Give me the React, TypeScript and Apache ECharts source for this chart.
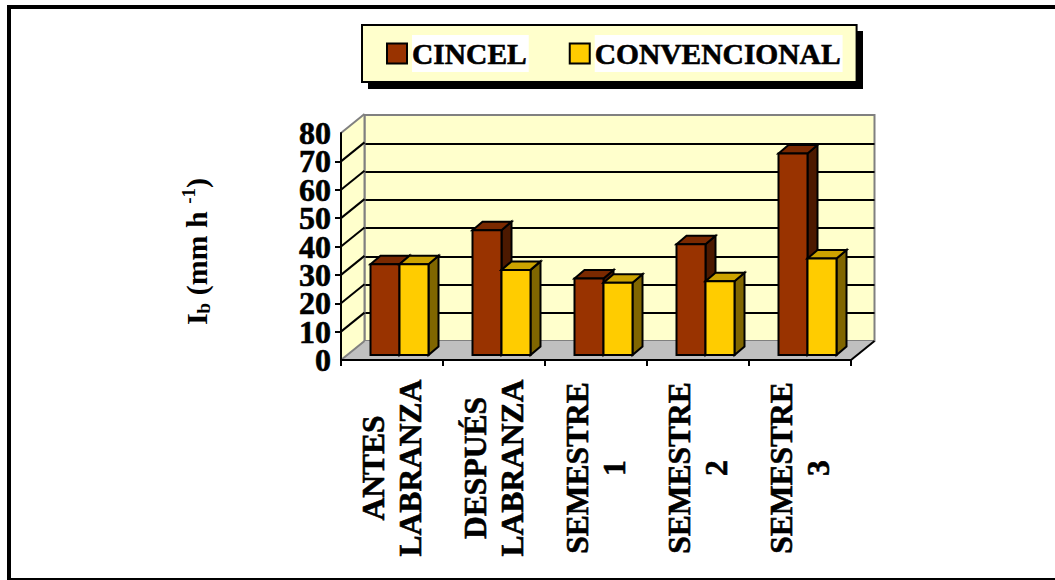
import React, { useEffect, useRef } from "react";
import * as echarts from "echarts";

const categories = ["ANTES\nLABRANZA", "DESPUÉS\nLABRANZA", "SEMESTRE\n1", "SEMESTRE\n2", "SEMESTRE\n3"];
const cincel = [32, 44, 27, 39, 71];
const convencional = [32, 30, 25.5, 26, 34];
const yTicks = [0, 10, 20, 30, 40, 50, 60, 70, 80];

const SERIF = "'Liberation Serif', 'Times New Roman', serif";
const WALL = "#FFFFCC";
const GREY = "#808080";
const DEPTH_X = 23.5;
const DEPTH_Y = 19;
const BAR_SHIFT_X = 7.5;
const BAR_BASE_Y = 5;
const BAR_W = 29;
const BAR_DX = 10;
const BAR_DY = 8.5;

function frameItem(params: any, api: any) {
  const cs = params.coordSys;
  const x0 = cs.x;
  const x1 = cs.x + cs.width;
  const y0 = cs.y + cs.height;
  const y1 = cs.y;
  const wall = [[x0, y0], [x0 + DEPTH_X, y0 - DEPTH_Y], [x0 + DEPTH_X, y1 - DEPTH_Y], [x0, y1]];
  const floor = [[x0, y0], [x1, y0], [x1 + DEPTH_X, y0 - DEPTH_Y], [x0 + DEPTH_X, y0 - DEPTH_Y]];
  const children: any[] = [
    { type: "polygon", shape: { points: floor }, style: { fill: "#C0C0C0", stroke: "none" } },
    { type: "polygon", shape: { points: wall }, style: { fill: WALL, stroke: "none" } },
    { type: "line", shape: { x1: x0 + DEPTH_X, y1: y0 - DEPTH_Y, x2: x0 + DEPTH_X, y2: y1 - DEPTH_Y }, style: { stroke: GREY, lineWidth: 2 } },
    { type: "line", shape: { x1: x0, y1: y1, x2: x0 + DEPTH_X, y2: y1 - DEPTH_Y }, style: { stroke: GREY, lineWidth: 2 } },
    { type: "line", shape: { x1: x0, y1: y0, x2: x0 + DEPTH_X, y2: y0 - DEPTH_Y }, style: { stroke: GREY, lineWidth: 2 } },
    { type: "line", shape: { x1: x1, y1: y0, x2: x1 + DEPTH_X, y2: y0 - DEPTH_Y }, style: { stroke: "#000", lineWidth: 2 } },
  ];
  yTicks.slice(1, -1).forEach((t) => {
    const y = api.coord([0, t])[1];
    children.push({
      type: "line",
      shape: { x1: x0, y1: y, x2: x0 + DEPTH_X, y2: y - DEPTH_Y },
      style: { stroke: "#000", lineWidth: 2 },
    });
  });
  return { type: "group", children };
}

function barRenderer(slot: number, front: string, top: string, side: string) {
  return (_params: any, api: any) => {
    const c = api.coord([api.value(0), api.value(1)]);
    const b = api.coord([api.value(0), 0]);
    const l = c[0] + BAR_SHIFT_X + (slot === 0 ? -BAR_W : 0);
    const r = l + BAR_W;
    const yt = c[1] - BAR_BASE_Y;
    const yb = b[1] - BAR_BASE_Y;
    const stroke = { stroke: "#000", lineWidth: 2, lineJoin: "miter" };
    return {
      type: "group",
      children: [
        { type: "polygon", shape: { points: [[r, yt], [r + BAR_DX, yt - BAR_DY], [r + BAR_DX, yb - BAR_DY], [r, yb]] }, style: { fill: side, ...stroke } },
        { type: "polygon", shape: { points: [[l, yt], [l + BAR_DX, yt - BAR_DY], [r + BAR_DX, yt - BAR_DY], [r, yt]] }, style: { fill: top, ...stroke } },
        { type: "rect", shape: { x: l, y: yt, width: BAR_W, height: yb - yt }, style: { fill: front, ...stroke } },
      ],
    };
  };
}

export default function App() {
  const ref = useRef<HTMLDivElement>(null);
  useEffect(() => {
    const chart = echarts.init(ref.current!, undefined, { renderer: "svg" });
    const heavy = { textBorderColor: "#000", textBorderWidth: 0.6 };
    const yLabelFont = { color: "#000", fontFamily: SERIF, fontWeight: "bold", fontSize: 32, ...heavy };
    chart.setOption({
      animation: false,
      backgroundColor: "#fff",
      textStyle: { fontFamily: SERIF },
      grid: [
        { left: 341, top: 133, width: 510, height: 227, outerBoundsMode: "none" },
        {
          left: 341 + DEPTH_X, top: 115, width: 510, height: 226, outerBoundsMode: "none",
          show: true, backgroundColor: WALL, borderColor: GREY, borderWidth: 2,
        },
      ],
      xAxis: [
        {
          type: "category", gridIndex: 0, data: categories, z: 3,
          axisLine: { lineStyle: { color: "#000", width: 2 }, onZero: false },
          axisTick: { show: true, alignWithLabel: false, length: 6, lineStyle: { color: "#000", width: 2 } },
          axisLabel: {
            interval: 0, rotate: 90, align: "center", verticalAlign: "middle", margin: 108,
            padding: [0, 0, 2, 0],
            color: "#000", fontFamily: SERIF, fontWeight: "bold", fontSize: 31.5, lineHeight: 37, ...heavy,
          },
        },
        {
          type: "category", gridIndex: 1, data: categories,
          axisLine: { show: false }, axisTick: { show: false }, axisLabel: { show: false },
        },
      ],
      yAxis: [
        {
          type: "value", gridIndex: 0, min: 0, max: 80, interval: 10, z: 3, position: "left",
          axisLine: { show: true, lineStyle: { color: "#000", width: 2 } },
          axisTick: { show: true, length: 6, lineStyle: { color: "#000", width: 2 } },
          splitLine: { show: false },
          axisLabel: { margin: 10, showMinLabel: false, showMaxLabel: false, ...yLabelFont },
          name: "{t|I}{sub|b}{t| (mm h }{sup|-1}{t|)}",
          nameLocation: "middle",
          nameGap: 128,
          nameRotate: 90,
          nameTextStyle: {
            padding: [0, 10, 0, 0],
            rich: {
              t: { fontFamily: SERIF, fontWeight: "bold", fontSize: 30, color: "#000", lineHeight: 34 },
              sub: { fontFamily: SERIF, fontWeight: "bold", fontSize: 19, color: "#000", lineHeight: 19, verticalAlign: "bottom", padding: [14, 0, 0, 0] },
              sup: { fontFamily: SERIF, fontWeight: "bold", fontSize: 19, color: "#000", lineHeight: 19, verticalAlign: "top", padding: [0, 0, 14, 0] },
            },
          },
        },
        {
          type: "value", gridIndex: 1, min: 0, max: 80, interval: 10,
          axisLine: { show: false }, axisTick: { show: false }, axisLabel: { show: false },
          splitLine: { show: true, showMinLine: false, showMaxLine: false, lineStyle: { color: "#000", width: 2 } },
        },
        {
          type: "value", gridIndex: 0, min: 0, max: 80, interval: 80, z: 3, position: "left", offset: 0,
          axisLine: { show: false }, axisTick: { show: false }, splitLine: { show: false },
          axisLabel: { margin: 10, showMinLabel: true, showMaxLabel: true, ...yLabelFont },
        },
      ],
      legend: {
        left: 362, top: 25, orient: "horizontal", z: 4,
        padding: [10, 14, 10, 24],
        backgroundColor: WALL, borderColor: "#000", borderWidth: 2,
        itemWidth: 20, itemHeight: 20, itemGap: 40, icon: "rect",
        data: ["CINCEL", "CONVENCIONAL"],
        selectedMode: false,
        textStyle: {
          fontFamily: SERIF, fontWeight: "bold", fontSize: 29.5, color: "#000",
          backgroundColor: "#fff", lineHeight: 37, padding: [0, 2, 0, 0], ...heavy,
        },
      },
      graphic: [
        { type: "rect", z: 1, silent: true, shape: { x: 9, y: 7, width: 1100, height: 573 }, style: { fill: "none", stroke: "#000", lineWidth: 4 } },
        { type: "rect", z: 1, silent: true, shape: { x: 368, y: 31, width: 495, height: 58 }, style: { fill: "#000" } },
      ],
      series: [
        {
          name: "marco", type: "custom", xAxisIndex: 0, yAxisIndex: 0, silent: true,
          renderItem: frameItem, data: [[0, 0]], encode: { x: 0, y: 1 },
        },
        {
          name: "CINCEL", type: "custom", xAxisIndex: 0, yAxisIndex: 0, silent: true,
          itemStyle: { color: "#993300", borderColor: "#000", borderWidth: 2 },
          renderItem: barRenderer(0, "#993300", "#7A2900", "#4C1900"),
          data: cincel.map((v, i) => [i, v]), encode: { x: 0, y: 1 },
        },
        {
          name: "CONVENCIONAL", type: "custom", xAxisIndex: 0, yAxisIndex: 0, silent: true,
          itemStyle: { color: "#FFCC00", borderColor: "#000", borderWidth: 2 },
          renderItem: barRenderer(1, "#FFCC00", "#CCA300", "#806600"),
          data: convencional.map((v, i) => [i, v]), encode: { x: 0, y: 1 },
        },
      ],
    });
    return () => chart.dispose();
  }, []);
  return <div ref={ref} style={{ position: "absolute", left: 0, top: 0, width: 1055, height: 580 }} />;
}
